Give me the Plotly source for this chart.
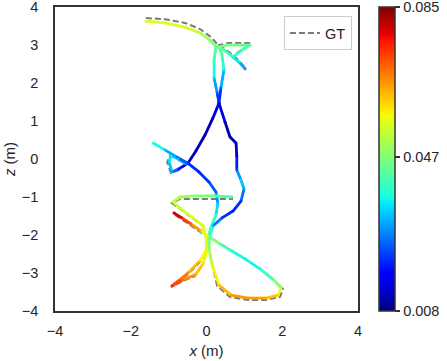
import plotly.graph_objects as go
from plotly.colors import sample_colorscale

# error range shown on the colour bar
ERR_MIN = 0.008
ERR_MAX = 0.085
cbar_ticks = [0.008, 0.047, 0.085]
cbar_labels = ["0.008", "0.047", "0.085"]

x_ticks = [-4, -2, 0, 2, 4]
z_ticks = [-4, -3, -2, -1, 0, 1, 2, 3, 4]

# estimated trajectory, None splits the separate pieces
est_x = [-1.60, -1.10, -0.57, -0.17, 0.09, 0.25, 0.46, 0.70, 0.88, 1.02, None,
         0.25, 0.20, 0.20, 0.28, 0.33, 0.17, -0.04, -0.28, -0.49, -0.73, -0.91, -0.99, -0.94, -0.75, -0.54, None,
         -1.41, -1.10, -0.78, -0.49, -0.20, 0.07, 0.25, 0.30, 0.25, 0.12, 0.04, -0.01, -0.17, -0.49, -0.75, -0.91,
         -0.62, -0.30, -0.09, 0.01, -0.01, -0.09, -0.38, -0.67, -0.88, -0.70, -0.30, 0.15, 0.67, None,
         -0.86, -0.65, -0.41, -0.15, 0.07, 0.36, 0.67, 1.02, 1.41, 1.75, 1.97, 1.89, 1.57, 1.10, 0.65, 0.33,
         0.15, 0.07, 0.07, 0.17, 0.41, 0.70, 0.91, 0.99, 0.91, 0.80, 0.80, 0.78, 0.62, 0.49, 0.33, 0.38,
         0.46, 0.41, 0.33, 0.57, 0.88, 1.15, 0.94, 0.73]
est_z = [3.63, 3.58, 3.47, 3.32, 3.13, 2.97, 2.87, 2.68, 2.53, 2.37, None,
         2.95, 2.61, 2.13, 1.76, 1.47, 1.08, 0.63, 0.21, -0.11, -0.26, -0.34, -0.08, 0.08, 0.00, -0.13, None,
         0.42, 0.24, 0.05, -0.11, -0.34, -0.61, -0.87, -1.16, -1.47, -1.79, -2.08, -2.39, -2.68, -3.00, -3.21, -3.34,
         -3.18, -3.05, -2.76, -2.39, -2.08, -1.76, -1.53, -1.32, -1.13, -1.00, -0.97, -0.97, -1.00, None,
         -1.42, -1.55, -1.71, -1.89, -2.05, -2.24, -2.42, -2.63, -2.89, -3.16, -3.39, -3.58, -3.66, -3.66, -3.58, -3.32,
         -2.79, -2.39, -2.08, -1.76, -1.55, -1.37, -1.11, -0.79, -0.55, -0.29, 0.08, 0.42, 0.58, 0.97, 1.47, 1.87,
         2.34, 2.74, 2.95, 3.00, 3.00, 3.00, 2.87, 2.71]
est_err = [0.055, 0.056, 0.055, 0.052, 0.048, 0.045, 0.042, 0.038, 0.033, 0.028, None,
           0.044, 0.040, 0.034, 0.026, 0.018, 0.013, 0.011, 0.012, 0.015, 0.020, 0.030, 0.034, 0.036, 0.033, 0.028, None,
           0.040, 0.034, 0.027, 0.022, 0.020, 0.022, 0.026, 0.032, 0.037, 0.042, 0.047, 0.054, 0.060, 0.066, 0.071, 0.075,
           0.069, 0.064, 0.060, 0.056, 0.055, 0.055, 0.055, 0.054, 0.053, 0.051, 0.048, 0.045, 0.041, None,
           0.082, 0.077, 0.070, 0.062, 0.052, 0.043, 0.038, 0.036, 0.037, 0.043, 0.052, 0.060, 0.064, 0.066, 0.065, 0.061,
           0.055, 0.049, 0.044, 0.032, 0.022, 0.019, 0.022, 0.030, 0.034, 0.024, 0.015, 0.012, 0.011, 0.012, 0.016, 0.026,
           0.036, 0.042, 0.046, 0.046, 0.045, 0.043, 0.041, 0.038]

# ground truth trajectory
gt_x = [-1.60, -1.10, -0.57, -0.17, 0.12, 0.28, 0.49, 0.73, 0.91, 1.04, None,
        0.25, 0.20, 0.20, 0.28, 0.33, 0.17, -0.04, -0.28, -0.49, -0.73, -0.94, -1.04, -0.96, -0.75, -0.54, None,
        -1.41, -1.10, -0.78, -0.49, -0.20, 0.07, 0.25, 0.30, 0.25, 0.12, 0.04, -0.01, -0.17, -0.49, -0.75, -0.94,
        -0.62, -0.30, -0.09, 0.01, -0.01, -0.09, -0.38, -0.67, -0.91, -0.70, -0.30, 0.15, 0.70, None,
        -0.83, -0.62, -0.38, -0.12, 0.07, 0.36, 0.67, 1.02, 1.41, 1.75, 2.02, 1.94, 1.57, 1.10, 0.62, 0.28,
        0.15, 0.07, 0.07, 0.17, 0.41, 0.70, 0.91, 0.99, 0.91, 0.80, 0.80, 0.78, 0.62, 0.49, 0.33, 0.38,
        0.46, 0.41, 0.33, 0.57, 0.88, 1.17, 0.96, 0.73]
gt_z = [3.71, 3.68, 3.58, 3.42, 3.21, 3.03, 2.89, 2.71, 2.53, 2.37, None,
        2.95, 2.61, 2.13, 1.76, 1.47, 1.08, 0.63, 0.21, -0.11, -0.29, -0.37, -0.08, 0.11, 0.03, -0.13, None,
        0.42, 0.24, 0.05, -0.11, -0.34, -0.61, -0.87, -1.16, -1.47, -1.79, -2.08, -2.39, -2.71, -3.03, -3.24, -3.37,
        -3.21, -3.08, -2.76, -2.39, -2.08, -1.76, -1.55, -1.34, -1.16, -1.05, -1.05, -1.05, -1.05, None,
        -1.47, -1.61, -1.76, -1.95, -2.05, -2.24, -2.42, -2.63, -2.89, -3.16, -3.42, -3.63, -3.71, -3.71, -3.63, -3.34,
        -2.79, -2.39, -2.08, -1.76, -1.55, -1.37, -1.11, -0.79, -0.55, -0.29, 0.08, 0.42, 0.58, 0.97, 1.47, 1.87,
        2.34, 2.74, 3.00, 3.05, 3.05, 3.05, 2.89, 2.74]

# matplotlib "jet"
JET = [
    [0.0, "rgb(0,0,128)"], [0.11, "rgb(0,0,255)"], [0.125, "rgb(0,0,255)"],
    [0.34, "rgb(0,219,255)"], [0.35, "rgb(0,230,247)"], [0.375, "rgb(21,255,226)"],
    [0.64, "rgb(239,255,8)"], [0.65, "rgb(247,245,0)"], [0.66, "rgb(255,236,0)"],
    [0.89, "rgb(255,19,0)"], [0.91, "rgb(232,0,0)"], [1.0, "rgb(128,0,0)"],
]

TEXT = "#262626"
FONT = "Liberation Sans, Arial, sans-serif"
TICK_FONT = dict(family=FONT, size=14.5, color=TEXT)
TITLE_FONT = dict(family=FONT, size=15, color=TEXT)

fig = go.Figure()

fig.add_trace(go.Scatter(
    x=gt_x, y=gt_z, mode="lines", name="GT",
    line=dict(color="#7a7a7a", width=2, dash="6px,3px"),
    hoverinfo="skip",
))

# colour each piece of the estimate by its error
for i in range(len(est_x) - 1):
    if est_x[i] is None or est_x[i + 1] is None:
        continue
    e = (est_err[i] + est_err[i + 1]) / 2
    c = sample_colorscale(JET, [(e - ERR_MIN) / (ERR_MAX - ERR_MIN)])[0]
    fig.add_trace(go.Scatter(
        x=[est_x[i], est_x[i + 1]], y=[est_z[i], est_z[i + 1]],
        mode="lines", line=dict(color=c, width=2.8),
        showlegend=False, hoverinfo="skip",
    ))

# vertices, also carries the colour bar
pts = [(x, z, e) for x, z, e in zip(est_x, est_z, est_err) if x is not None]
fig.add_trace(go.Scatter(
    x=[p[0] for p in pts], y=[p[1] for p in pts], mode="markers",
    showlegend=False, hoverinfo="skip",
    marker=dict(
        size=2.8, color=[p[2] for p in pts], colorscale=JET,
        cmin=ERR_MIN, cmax=ERR_MAX, showscale=True,
        colorbar=dict(
            x=1.069, xanchor="left", xpad=0, y=0.5, yanchor="middle",
            len=1, lenmode="fraction", ypad=0, thickness=16,
            outlinecolor="#333333", outlinewidth=1.5,
            tickvals=cbar_ticks, ticktext=cbar_labels,
            ticks="outside", ticklen=5, tickwidth=1.5, tickcolor="#333333",
            tickfont=TICK_FONT, ticklabeloverflow="allow",
        ),
    ),
))

fig.update_layout(
    width=447, height=361,
    margin=dict(l=55, r=89, t=7, b=50, autoexpand=False),
    paper_bgcolor="white", plot_bgcolor="white",
    font=dict(family=FONT, size=14, color=TEXT),
    legend=dict(
        x=0.98, y=0.97, xanchor="right", yanchor="top", itemwidth=30,
        bgcolor="rgba(255,255,255,0.8)", bordercolor="#cccccc", borderwidth=1,
        font=TICK_FONT,
    ),
)
fig.update_xaxes(
    range=[-4, 4], tickvals=x_ticks, ticks="", showgrid=False, zeroline=False,
    showline=True, mirror=True, linecolor="#333333", linewidth=1.5,
    ticklabelstandoff=6, ticklabeloverflow="allow", automargin=False, tickfont=TICK_FONT,
    title=dict(text="<i>x</i> (m)", standoff=7, font=TITLE_FONT),
)
fig.update_yaxes(
    range=[-4, 4], tickvals=z_ticks, ticks="", showgrid=False, zeroline=False,
    showline=True, mirror=True, linecolor="#333333", linewidth=1.5,
    ticklabelstandoff=12, ticklabeloverflow="allow", automargin=False, tickfont=TICK_FONT,
    title=dict(text="<i>z</i> (m)", standoff=3, font=TITLE_FONT),
)

# the page's default body margin would push the figure off its 447x361 frame
fig.write_html("out.html", config={"displayModeBar": False},
               post_script="document.body.style.margin = '0';")
